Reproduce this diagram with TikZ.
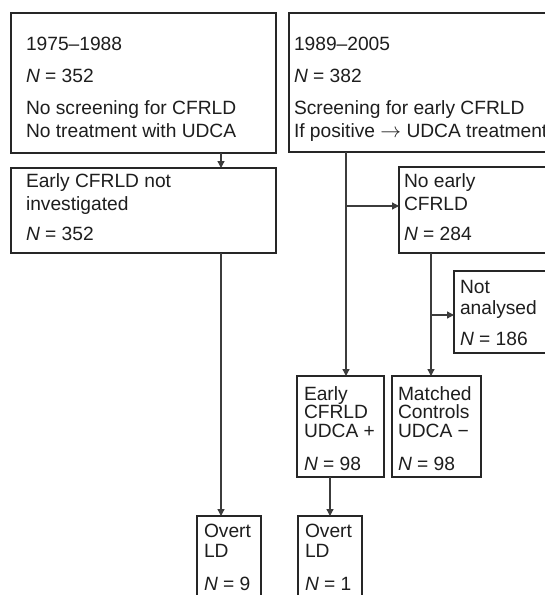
\documentclass[tikz,border=0pt]{standalone}
\usepackage{fontspec}
\setmainfont{Liberation Sans}
\usetikzlibrary{arrows.meta}
\definecolor{boxc}{HTML}{262626}
\definecolor{linec}{HTML}{3C3C3C}
\definecolor{txtc}{HTML}{1E1E1E}
% #1 width, #2 height, #3 baselineskip, #4 left pad, #5 first baseline, #6 text
\newcommand\boxtxt[6]{\parbox[c][#2][t]{#1}{\fontsize{19.2}{#3}\selectfont\raggedright\leftskip=#4\relax\rule{0pt}{#5}#6}}
\begin{document}
\begin{tikzpicture}[x=1pt,y=-1pt,
  fbox/.style={draw=boxc, line width=1.9pt, inner sep=0pt, outer sep=0pt, anchor=north west, text=txtc},
  conn/.style={draw=linec, line width=1.3pt, -{Triangle[length=7pt,width=7pt]}}]
\useasboundingbox (0,0) rectangle (545,595);
\fill[white] (0,0) rectangle (545,595);
\clip (0,0) rectangle (545,595);

\node[fbox] (A) at (11,13) {\boxtxt{265pt}{140pt}{23pt}{15pt}{37pt}{1975–1988\\[9pt] \textit{N} = 352\\[9pt] No screening for CFRLD\\ No treatment with UDCA}};
\node[fbox] (B) at (289,13) {\boxtxt{280pt}{139pt}{23pt}{5pt}{37pt}{1989–2005\\[9pt] \textit{N} = 382\\[9pt] Screening for early CFRLD\\ If positive $\rightarrow$ UDCA treatment}};
\node[fbox] (C) at (11,168) {\boxtxt{265pt}{85pt}{23pt}{15pt}{19pt}{Early CFRLD not\\ investigated\\[7pt] \textit{N} = 352}};
\node[fbox] (D) at (399,167) {\boxtxt{160pt}{86pt}{23pt}{5pt}{20pt}{No early\\ CFRLD\\[7pt] \textit{N} = 284}};
\node[fbox] (E) at (454,271) {\boxtxt{110pt}{82pt}{23pt}{6pt}{22pt}{Not\\[-2pt] analysed\\[8pt] \textit{N} = 186}};
\node[fbox] (F) at (297,376) {\boxtxt{87pt}{101pt}{18.5pt}{7pt}{24pt}{Early\\ CFRLD\\ UDCA +\\[14.5pt] \textit{N} = 98}};
\node[fbox] (G) at (392,376) {\boxtxt{89pt}{101pt}{18.5pt}{6pt}{24pt}{Matched\\ Controls\\ UDCA −\\[14.5pt] \textit{N} = 98}};
\node[fbox] (O1) at (197,516) {\boxtxt{64pt}{100pt}{20pt}{7pt}{21pt}{Overt\\ LD\\[13pt] \textit{N} = 9}};
\node[fbox] (O2) at (298,516) {\boxtxt{64pt}{100pt}{20pt}{7pt}{21pt}{Overt\\ LD\\[13pt] \textit{N} = 1}};

\coordinate (xa) at (221,0);
\coordinate (xb) at (346,0);
\coordinate (xd) at (431,0);
\coordinate (yb) at (0,206);
\coordinate (yd) at (0,315);

\draw[conn] (A.south -| xa) -- (C.north -| xa);
\draw[conn] (B.south -| xb) -- (F.north -| xb);
\draw[conn] (yb -| xb) -- (D.west |- yb);
\draw[conn] (D.south -| xd) -- (G.north -| xd);
\draw[conn] (yd -| xd) -- (E.west |- yd);
\draw[conn] (C.south -| xa) -- (O1.north -| xa);
\draw[conn] (F.south -| O2.north) -- (O2.north);
\end{tikzpicture}
\end{document}
